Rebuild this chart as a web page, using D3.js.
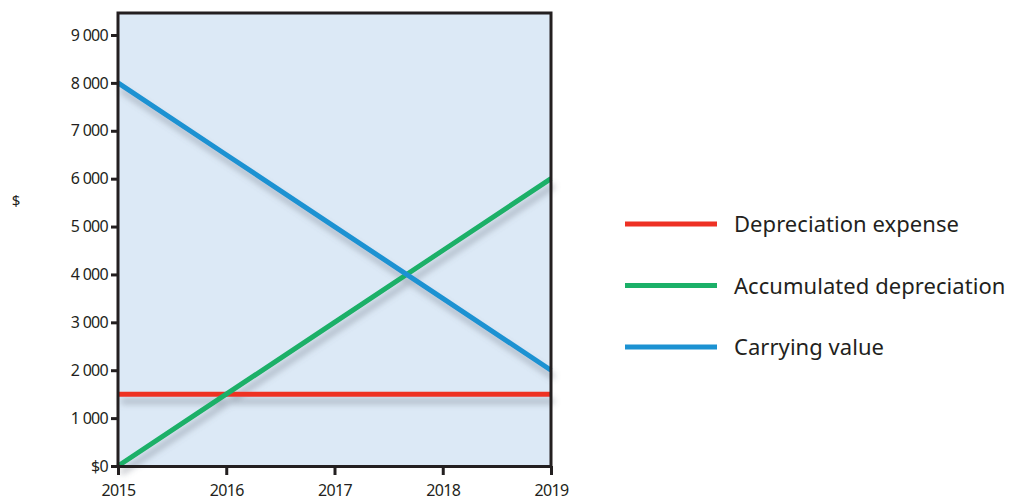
<!DOCTYPE html>
<html>
<head>
<meta charset="utf-8">
<script src="https://cdn.jsdelivr.net/npm/d3@7"></script>
<style>
  body { margin: 0; background: #fff; }
  text { font-family: "Noto Sans", Lato, sans-serif; fill: #231f20; }
</style>
</head>
<body>
<svg width="1030" height="501"></svg>
<script>
var years = [2015, 2016, 2017, 2018, 2019];
var yTicks = [0, 1000, 2000, 3000, 4000, 5000, 6000, 7000, 8000, 9000];
var seriesNames = ["Depreciation expense", "Accumulated depreciation", "Carrying value"];
var seriesColors = ["#ee3124", "#1bb068", "#1c92d2"];
var expense = [1500, 1500, 1500, 1500, 1500];
var accumulated = [0, 1500, 3000, 4500, 6000];
var carrying = [8000, 6500, 5000, 3500, 2000];

var svg = d3.select("svg");
var plotLeft = 118, plotRight = 551, plotTop = 13, plotBottom = 466;

var xScale = d3.scaleLinear()
    .domain([2015, 2019])
    .range([plotLeft, plotRight]);
var yScale = d3.scaleLinear()
    .domain([0, 9000])
    .range([plotBottom, 35]);

// drop shadow for the lines
var defs = svg.append("defs");
defs.append("filter")
    .attr("id", "shadow")
    .attr("x", "-20%").attr("y", "-20%")
    .attr("width", "140%").attr("height", "140%")
    .append("feDropShadow")
    .attr("dx", 3).attr("dy", 7)
    .attr("stdDeviation", 3)
    .attr("flood-color", "#6b7480")
    .attr("flood-opacity", 0.45);

// plot background
svg.append("rect")
    .attr("x", plotLeft).attr("y", plotTop)
    .attr("width", plotRight - plotLeft).attr("height", plotBottom - plotTop)
    .attr("fill", "#dce9f6");

var line = d3.line()
    .x((d, i) => xScale(years[i]))
    .y(d => yScale(d));

var allSeries = [expense, accumulated, carrying];
svg.append("g")
    .attr("filter", "url(#shadow)")
    .selectAll("path")
    .data(allSeries)
    .enter()
    .append("path")
    .attr("d", line)
    .attr("fill", "none")
    .attr("stroke", (d, i) => seriesColors[i])
    .attr("stroke-width", 5);

// frame
svg.append("path")
    .attr("d", "M" + plotLeft + "," + plotBottom + "V" + plotTop + "H" + plotRight + "V" + plotBottom)
    .attr("fill", "none")
    .attr("stroke", "#231f20")
    .attr("stroke-width", 3);

var fmt = v => v === 0 ? "$0" : d3.format(",")(v).replace(",", " ");

var yAxis = d3.axisLeft(yScale)
    .tickValues(yTicks)
    .tickFormat(fmt)
    .tickSize(7)
    .tickSizeOuter(0)
    .tickPadding(3);
var gy = svg.append("g")
    .attr("transform", "translate(" + plotLeft + ",0)")
    .call(yAxis);
gy.select(".domain").remove();
gy.selectAll(".tick line").attr("stroke", "#231f20").attr("stroke-width", 3);
gy.selectAll(".tick text").style("font-size", "16px").style("letter-spacing", "-0.7px").attr("fill", "#231f20");

var xAxis = d3.axisBottom(xScale)
    .tickValues(years)
    .tickFormat(d3.format("d"))
    .tickSize(9)
    .tickSizeOuter(0)
    .tickPadding(10);
var gx = svg.append("g")
    .attr("transform", "translate(0," + plotBottom + ")")
    .call(xAxis);
gx.select(".domain")
    .attr("stroke", "#231f20")
    .attr("stroke-width", 3);
gx.selectAll(".tick line").attr("stroke", "#231f20").attr("stroke-width", 3);
gx.selectAll(".tick text").style("font-size", "16px").style("letter-spacing", "-0.7px").attr("fill", "#231f20");

svg.append("text")
    .attr("x", 16)
    .attr("y", 206)
    .attr("text-anchor", "middle")
    .style("font-size", "15px")
    .text("$");

// legend
var legend = svg.append("g")
    .selectAll("g")
    .data(seriesNames)
    .enter()
    .append("g")
    .attr("transform", (d, i) => "translate(625," + (224 + i * 61.5) + ")");
legend.append("line")
    .attr("x1", 0).attr("x2", 92)
    .attr("stroke", (d, i) => seriesColors[i])
    .attr("stroke-width", 5);
legend.append("text")
    .attr("x", 109)
    .attr("y", 8)
    .style("font-size", "22px")
    .style("letter-spacing", "0.05px")
    .text(d => d);
</script>
</body>
</html>
